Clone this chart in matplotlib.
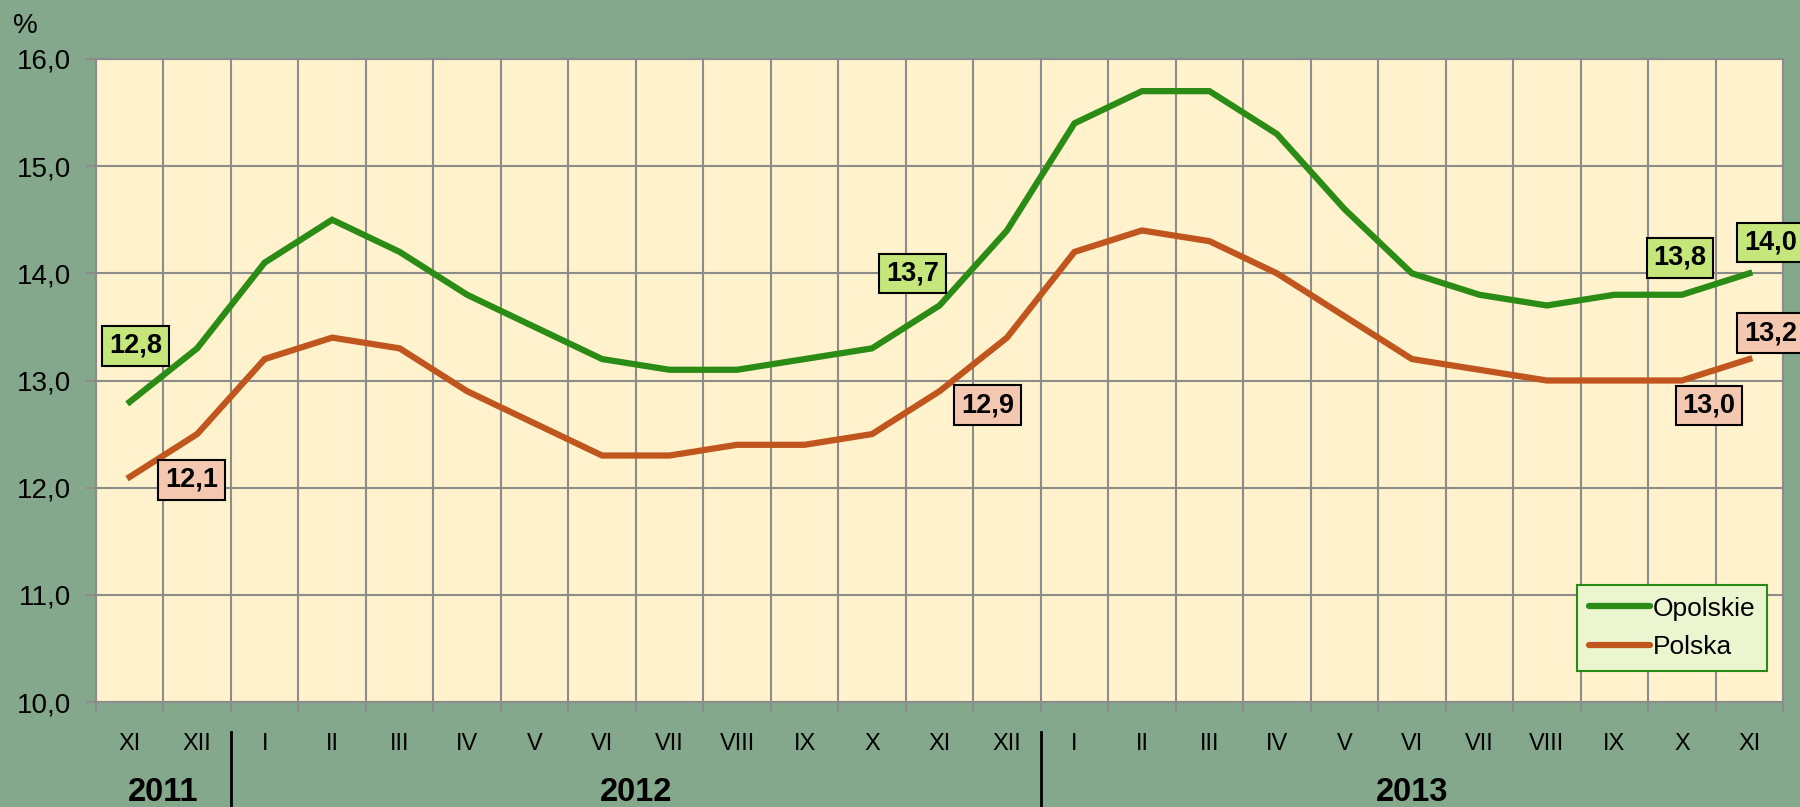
import matplotlib
matplotlib.use("Agg")
import matplotlib.pyplot as plt
import matplotlib.transforms as mtransforms
from matplotlib.lines import Line2D

# data
months = ["XI", "XII",
          "I", "II", "III", "IV", "V", "VI", "VII", "VIII", "IX", "X", "XI", "XII",
          "I", "II", "III", "IV", "V", "VI", "VII", "VIII", "IX", "X", "XI"]
years = ["2011", "2012", "2013"]
months_per_year = [2, 12, 11]
opolskie = [12.8, 13.3, 14.1, 14.5, 14.2, 13.8, 13.5, 13.2, 13.1, 13.1, 13.2, 13.3,
            13.7, 14.4, 15.4, 15.7, 15.7, 15.3, 14.6, 14.0, 13.8, 13.7, 13.8, 13.8, 14.0]
polska = [12.1, 12.5, 13.2, 13.4, 13.3, 12.9, 12.6, 12.3, 12.3, 12.4, 12.4, 12.5,
          12.9, 13.4, 14.2, 14.4, 14.3, 14.0, 13.6, 13.2, 13.1, 13.0, 13.0, 13.0, 13.2]
yticks = [10, 11, 12, 13, 14, 15, 16]

# which points get a value box, and where the box sits (offset in pixels)
opolskie_labels = {0: (6, 56), 12: (-27, 32), 23: (-2, 37), 24: (21, 31)}
polska_labels = {0: (62, -3), 12: (48, -14), 23: (27, -25), 24: (21, 26)}

BG = "#84A88C"
FACE = "#FFF2CC"
GRID = "#8C8C8C"
GREEN = "#2A8C14"
ORANGE = "#C0561E"

plt.rcParams["font.family"] = ["Liberation Sans", "DejaVu Sans"]

fig = plt.figure(figsize=(18, 8.07), dpi=100, facecolor=BG)
ax = fig.add_axes([0.0533, 0.1301, 0.9373, 0.7968])
ax.set_facecolor(FACE)

x = list(range(len(months)))
ax.plot(x, opolskie, color=GREEN, lw=4.5, label="Opolskie", solid_joinstyle="miter", zorder=3)
ax.plot(x, polska, color=ORANGE, lw=4.5, label="Polska", solid_joinstyle="miter", zorder=3)

ax.set_xlim(-0.5, len(months) - 0.5)
ax.set_ylim(yticks[0], yticks[-1])

# grid: horizontal at y ticks, vertical at category boundaries
ax.set_yticks(yticks)
ax.set_yticklabels([f"{v:.1f}".replace(".", ",") for v in yticks], fontsize=20)
ax.set_xticks([i - 0.5 for i in range(len(months) + 1)])
ax.set_xticklabels([])
ax.tick_params(axis="both", direction="out", color=GRID, width=1.5, length=7)
ax.tick_params(axis="y", pad=11)
ax.grid(True, color=GRID, lw=1.5, zorder=1)
ax.set_axisbelow(True)
for s in ax.spines.values():
    s.set_color(GRID)
    s.set_linewidth(1.5)

# month labels and year row
tr = mtransforms.blended_transform_factory(ax.transData, ax.transAxes)
for i, m in enumerate(months):
    ax.text(i, -0.0653, m, transform=tr, ha="center", va="center", fontsize=17)

start = 0
for k, (yr, n) in enumerate(zip(years, months_per_year)):
    ax.text(start + (n - 1) / 2, -0.14, yr, transform=tr, ha="center", va="center",
            fontsize=23.5, fontweight="bold")
    start += n
    if k < len(years) - 1:
        ax.add_line(Line2D([start - 0.5, start - 0.5], [-0.0467, -0.17], transform=tr,
                           color="black", lw=2, clip_on=False))

# value boxes
def boxes(series, labels, fc):
    for i, (dx, dy) in labels.items():
        ax.annotate(f"{series[i]:.1f}".replace(".", ","), xy=(i, series[i]),
                    xytext=(dx, dy), textcoords="offset pixels",
                    ha="center", va="center", fontsize=19.5, fontweight="bold",
                    bbox=dict(boxstyle="square,pad=0.25", fc=fc, ec="black", lw=1.5),
                    annotation_clip=False, zorder=5)

boxes(opolskie, opolskie_labels, "#C4E67A")
boxes(polska, polska_labels, "#F4C8B0")

leg = ax.legend(loc="lower right", bbox_to_anchor=(0.9905, 0.0482), borderaxespad=0,
                fontsize=19, fancybox=False, framealpha=1, handlelength=2.3,
                handletextpad=0.1, labelspacing=0.55, borderpad=0.45)
leg.get_frame().set_facecolor("#EBF5D0")
leg.get_frame().set_edgecolor(GREEN)
leg.get_frame().set_linewidth(1.5)
for h in leg.get_lines():
    h.set_solid_capstyle("round")

fig.text(13 / 1800, 1 - 33 / 807, "%", fontsize=20, ha="left", va="baseline")

fig.savefig("out.png", dpi=100, facecolor=BG)
